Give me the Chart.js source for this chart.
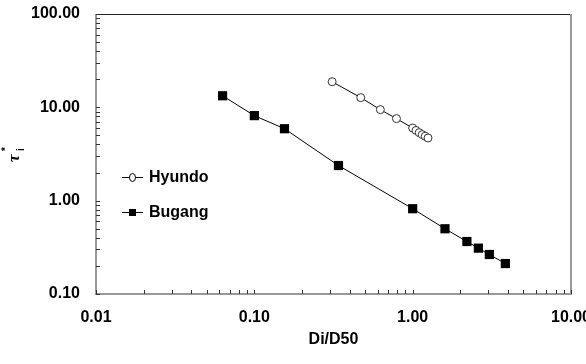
<!DOCTYPE html>
<html>
<head>
<meta charset="utf-8">
<script src="https://cdn.jsdelivr.net/npm/chart.js@4.4.1/dist/chart.umd.min.js"></script>
<style>
  html, body { margin: 0; padding: 0; background: #fff; }
  #wrap { width: 586px; height: 364px; }
</style>
</head>
<body>
<div id="wrap"><canvas id="chart"></canvas></div>
<script>
// data
const hyundoX = [0.31, 0.47, 0.625, 0.79, 1.0, 1.05, 1.1, 1.15, 1.2, 1.25];
const hyundoY = [18.8, 12.7, 9.45, 7.57, 6.0, 5.65, 5.35, 5.1, 4.9, 4.7];
const bugangX = [0.063, 0.10, 0.155, 0.34, 1.0, 1.6, 2.2, 2.6, 3.05, 3.85];
const bugangY = [13.3, 8.15, 5.9, 2.38, 0.82, 0.50, 0.365, 0.31, 0.265, 0.212];
const xTicks = [0.01, 0.1, 1, 10];
const yTicks = [0.1, 1, 10, 100];

const FONT = "'Liberation Sans', Arial, sans-serif";

const toPoints = (xs, ys) => xs.map((x, i) => ({ x, y: ys[i] }));

// frame + inward minor ticks
const framePlugin = {
  id: 'frame',
  afterDatasetsDraw(chart) {
    const { ctx, chartArea: a, scales: { x, y } } = chart;
    ctx.save();
    ctx.lineWidth = 1;
    ctx.strokeStyle = '#222';
    ctx.beginPath();
    ctx.moveTo(a.left, a.top + 0.5); ctx.lineTo(a.right, a.top + 0.5);
    ctx.stroke();
    ctx.strokeStyle = '#999';
    ctx.lineWidth = 2;
    ctx.beginPath();
    ctx.moveTo(a.left, a.top); ctx.lineTo(a.left, a.bottom);
    ctx.lineTo(a.right, a.bottom); ctx.lineTo(a.right, a.top);
    ctx.stroke();
    ctx.strokeStyle = '#333';
    ctx.lineWidth = 1;
    ctx.beginPath();
    for (const d of [0.01, 0.1, 1]) {
      for (let k = 1; k <= 10; k++) {
        const px = Math.round(x.getPixelForValue(d * k)) + 0.5;
        ctx.moveTo(px, a.bottom); ctx.lineTo(px, a.bottom - 4);
      }
    }
    for (const d of [0.1, 1, 10]) {
      for (let k = 1; k <= 10; k++) {
        const py = Math.round(y.getPixelForValue(d * k)) + 0.5;
        ctx.moveTo(a.left, py); ctx.lineTo(a.left + 4, py);
      }
    }
    ctx.stroke();
    ctx.restore();
  }
};

// legend inside the plot + y title
const extrasPlugin = {
  id: 'extras',
  afterDraw(chart) {
    const { ctx } = chart;
    ctx.save();
    // legend
    const rows = [
      { label: 'Hyundo', y: 177, style: 'circle' },
      { label: 'Bugang', y: 212, style: 'rect' }
    ];
    rows.forEach(r => {
      ctx.strokeStyle = '#000';
      ctx.lineWidth = 1;
      ctx.beginPath();
      ctx.moveTo(122, r.y + 0.5); ctx.lineTo(143, r.y + 0.5);
      ctx.stroke();
      if (r.style === 'circle') {
        ctx.fillStyle = '#fff';
        ctx.beginPath();
        ctx.ellipse(132.5, r.y + 0.5, 3, 4, 0, 0, Math.PI * 2);
        ctx.fill(); ctx.stroke();
      } else {
        ctx.fillStyle = '#000';
        ctx.fillRect(129, r.y - 3, 7, 7);
      }
      ctx.fillStyle = '#000';
      ctx.font = 'bold 16px ' + FONT;
      ctx.textBaseline = 'middle';
      ctx.textAlign = 'left';
      ctx.fillText(r.label, 149, r.y + 1);
    });
    // y title: tau with subscript i and superscript *
    ctx.translate(19, 162);
    ctx.rotate(-Math.PI / 2);
    ctx.fillStyle = '#000';
    ctx.textBaseline = 'alphabetic';
    ctx.textAlign = 'left';
    ctx.font = 'italic bold 17px serif';
    ctx.fillText('τ', 0, 0);
    ctx.font = 'bold 10px ' + FONT;
    ctx.fillText('i', 11, 5);
    ctx.fillText('*', 11, -10);
    ctx.restore();
  }
};

new Chart(document.getElementById('chart'), {
  type: 'scatter',
  data: {
    datasets: [
      {
        label: 'Hyundo',
        data: toPoints(hyundoX, hyundoY),
        showLine: true,
        borderColor: '#000',
        borderWidth: 1,
        backgroundColor: '#fff',
        pointStyle: 'circle',
        pointRadius: 4,
        pointBorderWidth: 1,
        pointBorderColor: '#333'
      },
      {
        label: 'Bugang',
        data: toPoints(bugangX, bugangY),
        showLine: true,
        borderColor: '#000',
        borderWidth: 1,
        backgroundColor: '#000',
        pointStyle: 'rect',
        pointRadius: 6.5,
        pointBorderWidth: 0
      }
    ]
  },
  options: {
    responsive: true,
    maintainAspectRatio: false,
    animation: false,
    layout: { padding: { left: 0, right: 15, top: 14, bottom: 0 } },
    plugins: { legend: { display: false }, tooltip: { enabled: false } },
    scales: {
      x: {
        type: 'logarithmic',
        min: 0.01, max: 10,
        afterBuildTicks: s => { s.ticks = xTicks.map(v => ({ value: v })); },
        afterFit: s => { s.height = 70; s.paddingLeft = 0; s.paddingRight = 0; },
        grid: { display: false, drawTicks: false },
        border: { display: false },
        ticks: {
          padding: 14,
          color: '#000',
          maxRotation: 0,
          font: { family: FONT, size: 16, weight: 'bold' },
          callback: v => Number(v).toFixed(2)
        },
        title: {
          display: true,
          text: 'Di/D50',
          color: '#000',
          padding: { top: 0, bottom: 15 },
          font: { family: FONT, size: 16, weight: 'bold' }
        }
      },
      y: {
        type: 'logarithmic',
        min: 0.1, max: 100,
        afterBuildTicks: s => { s.ticks = yTicks.map(v => ({ value: v })); },
        afterFit: s => { s.width = 96; s.paddingTop = 0; s.paddingBottom = 0; },
        grid: { display: false, drawTicks: false },
        border: { display: false },
        ticks: {
          padding: 16,
          color: '#000',
          font: { family: FONT, size: 16, weight: 'bold' },
          callback: v => Number(v).toFixed(2)
        }
      }
    }
  },
  plugins: [framePlugin, extrasPlugin]
});
</script>
</body>
</html>
